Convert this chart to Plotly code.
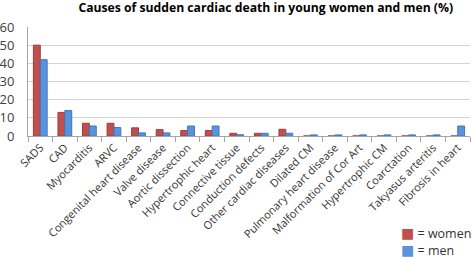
import plotly.graph_objects as go

categories = ["SADS", "CAD", "Myocarditis", "ARVC", "Congenital heart disease", "Valve disease",
              "Aortic dissection", "Hypertrophic heart", "Connective tissue", "Conduction defects",
              "Other cardiac diseases", "Dilated CM", "Pulmonary heart disease",
              "Malformation of Cor Art", "Hypertrophic CM", "Coarctation", "Takyasus arteritis",
              "Fibrosis in heart"]
women = [50, 13, 7, 7, 4.5, 3.5, 3, 3, 1.5, 1.5, 3.7, 0, 0, 0, 0, 0, 0, 0]
men = [42, 14, 5.5, 4.7, 1.7, 1.7, 5.5, 5.5, 0.7, 1.5, 1.5, 0.6, 0.6, 0.6, 0.6, 0.6, 0.6, 5.5]
y_ticks = [0, 10, 20, 30, 40, 50, 60]
series_names = ["= women", "= men"]
colors = ["#C0504D", "#5A93DB"]
edge_colors = ["#A03D3A", "#3F78C0"]

fig = go.Figure()
for name, vals, c, ec in zip(series_names, [women, men], colors, edge_colors):
    fig.add_trace(go.Bar(x=categories, y=vals, name=name,
                         marker=dict(color=c, line=dict(color=ec, width=1))))

# legend drawn as annotations (bottom right)
for i, (name, c) in enumerate(zip(series_names, colors)):
    fig.add_annotation(xref="paper", yref="paper", x=0.84, y=-0.89 - i * 0.156,
                       xanchor="left", yanchor="middle", showarrow=False,
                       text=f"<span style='color:{c}; font-family:DejaVu Sans; font-size:14px'>■</span> {name}",
                       font=dict(family="Open Sans", size=12.5, color="#333333"))

fig.update_layout(
    width=472, height=259,
    margin=dict(l=28, r=2, t=27, b=123),
    paper_bgcolor="white", plot_bgcolor="white",
    barmode="group", bargap=0.44, bargroupgap=0,
    showlegend=False,
    title=dict(text="<b>Causes of sudden cardiac death in young women and men (%)</b>",
               x=0.563, xanchor="center", y=0.985, yanchor="top",
               font=dict(family="Open Sans", size=12.2, color="#000000")),
    font=dict(family="Open Sans", color="#333333"),
)
fig.update_xaxes(tickangle=-45, tickfont=dict(size=11, color="#333333"),
                 showline=True, linecolor="#A6A6A6", linewidth=1,
                 ticks="outside", tickson="boundaries", ticklen=5, tickcolor="#A6A6A6",
                 showgrid=False, automargin=False)
fig.update_yaxes(range=[0, 60], tickvals=y_ticks, tickfont=dict(size=13, color="#404040"),
                 showline=True, linecolor="#A6A6A6", linewidth=1,
                 showgrid=True, gridcolor="#D4D4D4", gridwidth=1, zeroline=False,
                 ticks="", ticklabelstandoff=10, automargin=False)

fig.write_html("out.html", config={"responsive": False, "displayModeBar": False},
               post_script="document.body.style.margin='0px';document.body.style.overflow='hidden';")
